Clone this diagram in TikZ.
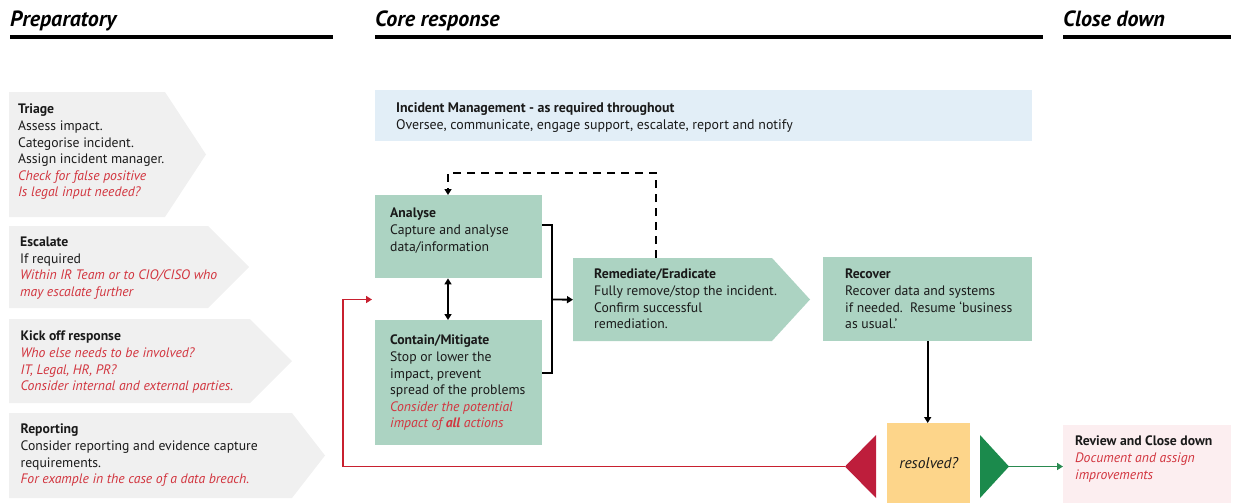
\documentclass[tikz,border=0pt]{standalone}
\usepackage{fontspec}
\setmainfont{PT Sans}
\usetikzlibrary{arrows.meta,calc}
\definecolor{chevgray}{HTML}{F0F0F0}
\definecolor{mgmtblue}{HTML}{E2EEF7}
\definecolor{stepgreen}{HTML}{ACD3C2}
\definecolor{resyellow}{HTML}{FDD58A}
\definecolor{revpink}{HTML}{FCEEF0}
\definecolor{notered}{HTML}{D2353F}
\definecolor{linered}{HTML}{C8202F}
\definecolor{trired}{HTML}{BE1E3C}
\definecolor{trigreen}{HTML}{1B8A4C}
\definecolor{linegreen}{HTML}{2A8A50}
\definecolor{inkblack}{HTML}{1A1A1A}
\newcommand\redit[1]{{\color{notered}\itshape #1}}
\begin{document}
\begin{tikzpicture}[x=1pt,y=-1pt,
  hdr/.style={anchor=base west, inner sep=0pt, font=\fontsize{22}{24}\selectfont\bfseries\itshape, text=black},
  hrule/.style={line width=4pt},
  txt/.style={anchor=north west, inner sep=0pt, align=left, font=\fontsize{13.7}{16.6}\selectfont, text=inkblack},
  boxnode/.style={anchor=north west, inner sep=0pt, draw=none},
  conn/.style={line width=1.8pt, draw=black, -{Triangle[length=6pt,width=7pt]}},
  dconn/.style={line width=1.8pt, draw=black, dash pattern=on 8pt off 6pt, -{Triangle[length=6pt,width=7pt]}},
  rconn/.style={line width=1.8pt, draw=linered, -{Triangle[length=6pt,width=7pt]}},
  gconn/.style={line width=1.8pt, draw=linegreen, -{Triangle[length=6pt,width=7pt]}},
]
\useasboundingbox (0,0) rectangle (1233,503);

% headers
\node[hdr] (hprep) at (10,27) {Preparatory};
\node[hdr] (hcore) at (375,27) {Core response};
\node[hdr] (hclose) at (1063,27) {Close down};
\draw[hrule] (10,37) -- (333,37);
\draw[hrule] (375,37) -- (1043,37);
\draw[hrule] (1063,37) -- (1231,37);

% preparatory chevrons
\fill[chevgray] (9,92) -- (165,92) -- (206,154.5) -- (165,217) -- (9,217) -- cycle;
\fill[chevgray] (9,226) -- (208,226) -- (249,267) -- (208,308) -- (9,308) -- cycle;
\fill[chevgray] (9,319) -- (250,319) -- (292,361) -- (250,403) -- (9,403) -- cycle;
\fill[chevgray] (9,413) -- (292,413) -- (325,455.5) -- (292,498) -- (9,498) -- cycle;

\node[txt] (ttriage) at (18,104) {\textbf{Triage}\\Assess impact.\\Categorise incident.\\Assign incident manager.\\\redit{Check for false positive}\\\redit{Is legal input needed?}};
\node[txt] (tescal) at (20,237) {\textbf{Escalate}\\If required\\\redit{Within IR Team or to CIO/CISO who}\\\redit{may escalate further}};
\node[txt] (tkick) at (20.5,331) {\textbf{Kick off response}\\\redit{Who else needs to be involved?}\\\redit{IT, Legal, HR, PR?}\\\redit{Consider internal and external parties.}};
\node[txt] (treport) at (20.5,424) {\textbf{Reporting}\\Consider reporting and evidence capture\\requirements.\\\redit{For example in the case of a data breach.}};

% incident management
\node[boxnode, fill=mgmtblue, minimum width=657pt, minimum height=51pt] (mgmt) at (375,90) {};
\node[txt, font=\fontsize{13.9}{17}\selectfont] (tmgmt) at (396,102) {\textbf{Incident Management - as required throughout}\\Oversee, communicate, engage support, escalate, report and notify};

% core steps
\node[boxnode, fill=stepgreen, minimum width=167pt, minimum height=83pt] (analyse) at (375,195) {};
\node[txt] (tanalyse) at (390,208) {\textbf{Analyse}\\Capture and analyse\\data/information};

\node[boxnode, fill=stepgreen, minimum width=167pt, minimum height=125pt] (contain) at (375,320) {};
\node[txt] (tcontain) at (390,335) {\textbf{Contain/Mitigate}\\Stop or lower the\\impact, prevent\\spread of the problems\\\redit{Consider the potential}\\\redit{impact of \textbf{all} actions}};

\fill[stepgreen] (573,258) -- (772,258) -- (810,299.5) -- (772,341) -- (573,341) -- cycle;
\node[boxnode, minimum width=237pt, minimum height=83pt] (remed) at (573,258) {};
\node[txt] (tremed) at (594,269) {\textbf{Remediate/Eradicate}\\Fully remove/stop the incident.\\Confirm successful\\remediation.};

\node[boxnode, fill=stepgreen, minimum width=209pt, minimum height=84pt] (recover) at (823,257) {};
\node[txt] (trecover) at (845,269) {\textbf{Recover}\\Recover data and systems\\if needed.\ \ Resume ‘business\\as usual.’};

\node[boxnode, fill=resyellow, minimum width=83pt, minimum height=80pt, font=\fontsize{15.5}{18}\selectfont\itshape, text=inkblack] (resolved) at (887,423) {resolved?};

\node[boxnode, fill=revpink, minimum width=168pt, minimum height=78pt] (review) at (1063,425) {};
\node[txt] (treview) at (1075,436) {\textbf{Review and Close down}\\\redit{Document and assign}\\\redit{improvements}};

% decision triangles
\fill[trired] (876,435) -- (876,498) -- (845,466.5) -- cycle;
\fill[trigreen] (980,435) -- (980,498) -- (1009,466.5) -- cycle;
\coordinate (redtip) at (845,466.5);
\coordinate (greentip) at (1009,466.5);
\coordinate (redend) at (372,299.5);
\coordinate (join) at (552,299.5);

% connectors
\draw[conn, {Triangle[length=6pt,width=7pt]}-{Triangle[length=6pt,width=7pt]}] ($(analyse.south west)+(73,0)$) -- ($(contain.north west)+(73,0)$);
\draw[line width=1.8pt] ($(analyse.north east)+(0,30)$) -| (join) |- ($(contain.north east)+(0,53)$);
\draw[conn] (join) -- (remed.west);
\draw[dconn] ($(remed.north west)+(83,0)$) -- ++(0,-85) -| ($(analyse.north west)+(73,0)$);
\draw[conn] (recover.south) -- (recover.south |- resolved.north);
\draw[rconn] (redtip) -| ($(redend)+(-29,0)$) -- (redend);
\draw[gconn] (greentip) -- (greentip -| review.west);
\end{tikzpicture}
\end{document}
